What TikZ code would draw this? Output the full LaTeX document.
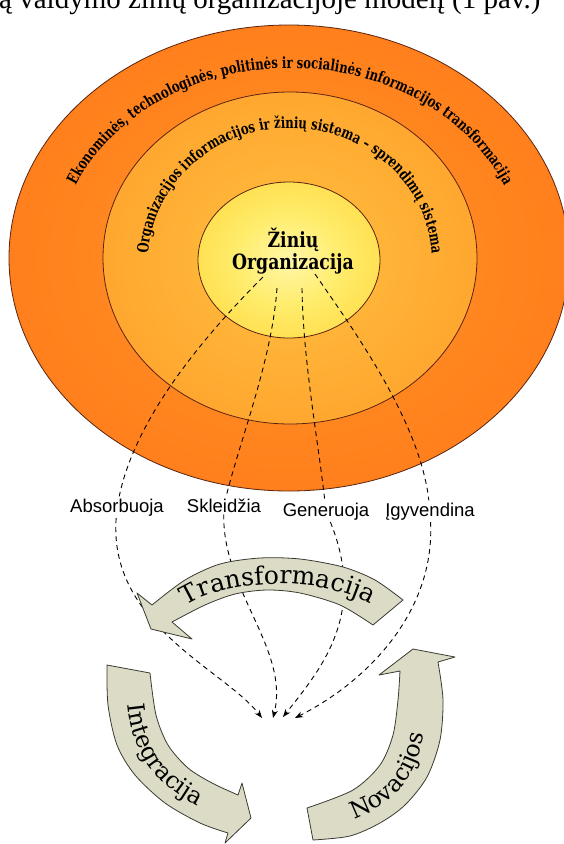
\documentclass[tikz,border=0pt]{standalone}
\usepackage{xcolor}
\usepackage{fontspec}
\setmainfont{Liberation Serif}
\setsansfont{Liberation Sans}
\newfontfamily\ringfont{DejaVu Serif}
\newfontfamily\ringnarrow[FakeStretch = 0.82]{DejaVu Serif}
\newfontfamily\ringtight[FakeStretch = 0.75]{DejaVu Serif}
\usepackage{tikz}
\usetikzlibrary{arrows.meta}
\usetikzlibrary{decorations.text}

\definecolor{ringEdge}{HTML}{5A2410}
\definecolor{outerA}{HTML}{FF9628}
\definecolor{outerM}{HTML}{FF7818}
\definecolor{outerB}{HTML}{FF6408}
\definecolor{middleA}{HTML}{FFC040}
\definecolor{middleM}{HTML}{FFA830}
\definecolor{middleB}{HTML}{FF9226}
\definecolor{innerA}{HTML}{FFF7A8}
\definecolor{innerM}{HTML}{FFEC6A}
\definecolor{innerB}{HTML}{FFC41A}
\definecolor{cycleFill}{HTML}{DCDCC6}
\definecolor{cycleEdge}{HTML}{3A3A32}

\pgfdeclareradialshading{outerRing}{\pgfpoint{0bp}{0bp}}{color(0bp)=(outerA); color(33bp)=(outerM); color(50bp)=(outerB)}
\pgfdeclareradialshading{middleRing}{\pgfpoint{0bp}{0bp}}{color(0bp)=(middleA); color(24bp)=(middleM); color(50bp)=(middleB)}
\pgfdeclareradialshading{innerRing}{\pgfpoint{0bp}{0bp}}{color(0bp)=(innerA); color(15bp)=(innerM); color(50bp)=(innerB)}

\newcommand\ringtext{\ringtight\bfseries\fontsize{15.5}{17}\selectfont}
\newcommand\cycletext{\ringfont\fontsize{25}{28}\selectfont}
\newcommand\cycletextsmall{\ringfont\fontsize{23.5}{26}\selectfont}

\tikzset{
  ringLine/.style = {draw = ringEdge, line width = 0.8pt},
  flowLine/.style = {dash pattern = on 5pt off 4pt, line width = 0.9pt},
  flowTail/.style = {flowLine, -{Stealth[length = 8pt, width = 6pt]}},
  flowLabel/.style = {font = \sffamily\fontsize{18.5}{20}\selectfont, inner sep = 2pt, anchor = base},
  cycleArrow/.style = {fill = cycleFill, draw = cycleEdge, line width = 0.8pt, line join = round}
}

\begin{document}
\begin{tikzpicture}[x=1pt,y=-1pt]
    \useasboundingbox (0,0) rectangle (563,844);

    % caption line, cut by the page edge
    \node[anchor = base west, font = \fontsize{29}{30}\selectfont, inner sep = 0pt] (caption) at (-1,8) {ą valdymo žinių organizacijoje modelį (1 pav.)};

    % rings
    \path[shading = outerRing, ringLine] (289,258) ellipse [x radius = 280, y radius = 233];
    \path[shading = middleRing, ringLine] (290,258) ellipse [x radius = 187, y radius = 166];
    \path[shading = innerRing, ringLine] (289,260) ellipse [x radius = 91, y radius = 78];

    \path[decorate, decoration = {text along path, text align = center,
        text = {|\ringtext|Ekonominės, technologinės, politinės ir socialinės informacijos transformacija}}]
        (290,262) ++(180:233 and 194) arc [start angle = 180, end angle = 360, x radius = 233, y radius = 194];
    \path[decorate, decoration = {text along path, text align = center,
        text = {|\ringtext|Organizacijos informacijos ir žinių sistema – sprendimų sistema}}]
        (290,262) ++(180:142 and 134) arc [start angle = 180, end angle = 360, x radius = 142, y radius = 134];

    \node[align = center, font = \ringnarrow\bfseries\fontsize{21}{22}\selectfont] (knowledgeCore) at (293,251) {Žinių\\Organizacija};

    % what the organisation does
    \coordinate (startA) at (263,277);
    \coordinate (startB) at (277,288);
    \coordinate (startC) at (302,288);
    \coordinate (startD) at (315,274);
    \node[flowLabel] (absorbs) at (117,512) {Absorbuoja};
    \node[flowLabel] (spreads) at (224,512) {Skleidžia};
    \node[flowLabel] (generates) at (326,516) {Generuoja};
    \node[flowLabel] (implements) at (430,516) {Įgyvendina};
    \coordinate (hubA) at (262,718);
    \coordinate (hubB) at (273,718);
    \coordinate (hubC) at (283,717);
    \coordinate (hubD) at (295,718);

    \draw [flowLine] (startA) .. controls (200,340) and (135,420) .. (absorbs);
    \draw [flowLine] (startB) .. controls (272,360) and (240,440) .. (spreads);
    \draw [flowLine] (startC) .. controls (303,360) and (318,440) .. (generates);
    \draw [flowLine] (startD) .. controls (350,325) and (420,420) .. (implements);

    \draw [flowTail] (absorbs) .. controls (108,625) and (225,670) .. (hubA);
    \draw [flowTail] (spreads) .. controls (222,590) and (290,650) .. (hubB);
    \draw [flowTail] (generates) .. controls (368,615) and (320,670) .. (hubC);
    \draw [flowTail] (implements) .. controls (435,610) and (370,680) .. (hubD);

    % the cycle
    \filldraw[cycleArrow] (403,600) -- (373,625)
        -- plot[smooth] coordinates {(373,625) (340,605) (300,593) (267,590) (235,594) (205,605) (172,622)}
        -- (192,639) -- (151,629) -- (137,593)
        -- plot[smooth] coordinates {(152,605) (185,580) (220,564) (260,558) (300,559) (343,567) (375,580) (403,600)}
        -- cycle;
    \filldraw[cycleArrow] (107,665) -- (150,673)
        -- plot[smooth] coordinates {(150,673) (156,715) (168,745) (188,768) (212,783) (238,795)}
        -- (242,783) -- (251,818) -- (225,843)
        -- plot[smooth] coordinates {(228,833) (200,823) (165,803) (135,775) (117,745) (108,705) (107,665)}
        -- cycle;
    \filldraw[cycleArrow] (313,840) -- (307,808)
        -- plot[smooth] coordinates {(307,808) (353,790) (380,765) (393,735) (398,700) (400,671)}
        -- (379,675) -- (413,649) -- (455,657)
        -- plot[smooth] coordinates {(438,662) (443,700) (440,740) (427,777) (405,805) (380,823) (350,836) (313,840)}
        -- cycle;

    \path[decorate, decoration = {text along path, text align = center, text = {|\cycletext|Transformacija}}]
        (178,612) .. controls (215,578) and (325,572) .. (380,610);
    \path[decorate, decoration = {text along path, text align = center, text = {|\cycletextsmall|Integracija}}]
        (127,678) .. controls (124,738) and (146,790) .. (222,816);
    \path[decorate, decoration = {text along path, text align = center, text = {|\cycletextsmall|Novacijos}}]
        (326,826) .. controls (382,816) and (426,786) .. (426,705);
\end{tikzpicture}
\end{document}
